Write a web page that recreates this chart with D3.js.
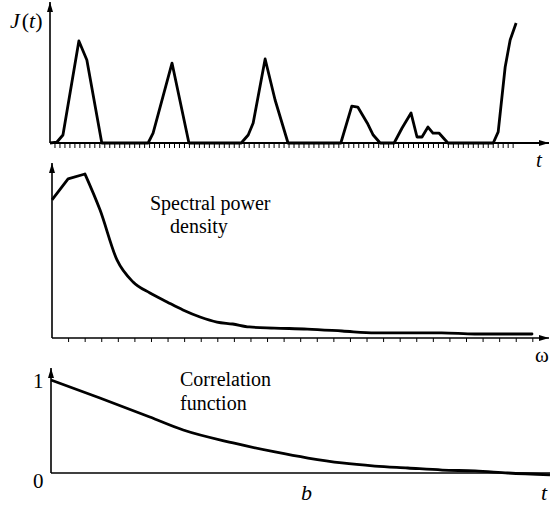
<!DOCTYPE html>
<html>
<head>
<meta charset="utf-8">
<script src="https://cdn.jsdelivr.net/npm/d3@7"></script>
<style>
  body { margin: 0; background: #fff; overflow: hidden; }
  svg { display: block; }
  text { fill: #000; }
</style>
</head>
<body>
<div id="chart"></div>
<script>
// top panel: J(t) pulses  (t in tick units, value in %)
var pulseT = [0, 1.4, 2.6, 5.8, 7.4, 10.4, 19.7, 20.7, 24.5, 27.9, 38.4, 39.8, 40.8, 43.2, 45.2, 47.8,
              58.4, 60.6, 61.8, 63.7, 64.9, 66.3, 69.1, 70.7, 72.5, 73.7, 74.7, 75.9, 76.9, 78.1, 79.9,
              89, 90, 91.4, 92.4, 93.6];
var pulseJ = [0, 0.7, 5.7, 72.9, 59.3, 0, 0, 7.1, 57.1, 0, 0, 5.7, 14.3, 60, 30.7, 0,
              0, 26.4, 25.7, 14.3, 5.7, 0, 0, 10.7, 21.4, 4.3, 4.3, 11.4, 7.1, 7.1, 0,
              0, 7.9, 54.3, 73.6, 85.7];

// middle panel: spectral power density
var specW = [0, 0.97, 1.99, 2.9, 3.92, 4.89, 5.91, 6.94, 7.9, 8.93, 9.95, 10.9, 11.9, 13.4,
             15.4, 17.5, 19.5, 21.5, 23.5, 25.5, 28.95];
var specP = [78.9, 90.9, 93.7, 73.1, 44.6, 32, 25.7, 20.6, 16, 12, 9.1, 8, 6.3, 5.7,
             5.1, 4, 2.9, 2.9, 2.9, 2.3, 2.3];

// bottom panel: correlation function
var corrT = [0, 0.098, 0.198, 0.265, 0.365, 0.449, 0.515, 0.583, 0.649, 0.715, 0.784, 0.85, 0.916, 1];
var corrR = [1, 0.806, 0.602, 0.462, 0.323, 0.226, 0.161, 0.108, 0.075, 0.054, 0.032, 0.022, 0, -0.02];

var width = 550, height = 506;

var svg = d3.select("#chart").append("svg")
    .attr("width", width)
    .attr("height", height)
    .attr("font-family", "'Times New Roman', 'Liberation Serif', 'DejaVu Serif', serif");

var defs = svg.append("defs");
defs.append("marker")
    .attr("id", "arrow")
    .attr("viewBox", "0 0 10 6")
    .attr("refX", 10).attr("refY", 3)
    .attr("markerWidth", 10).attr("markerHeight", 6)
    .attr("markerUnits", "userSpaceOnUse")
    .attr("orient", "auto")
  .append("path")
    .attr("d", "M0,0L10,3L0,6Z")
    .attr("fill", "#000");

function axes(x0, y0, xEnd, yTop, xArrow, lw) {
  svg.append("line")
      .attr("x1", x0).attr("y1", y0).attr("x2", x0).attr("y2", yTop)
      .attr("stroke", "#000").attr("stroke-width", 1.6)
      .attr("marker-end", "url(#arrow)");
  var l = svg.append("line")
      .attr("x1", x0).attr("y1", y0).attr("x2", xEnd).attr("y2", y0)
      .attr("stroke", "#000").attr("stroke-width", lw);
  if (xArrow) l.attr("marker-end", "url(#arrow)");
}

// ---- top panel
var x1 = d3.scaleLinear().domain([0, 100]).range([50, 548]);
var y1 = d3.scaleLinear().domain([0, 100]).range([143, 3]);

axes(50, 143, 549, 2, true, 1.8);

svg.append("g")
  .selectAll("line")
  .data(d3.range(1, 94))
  .enter().append("line")
    .attr("x1", function(d) { return x1(d); })
    .attr("x2", function(d) { return x1(d); })
    .attr("y1", 143).attr("y2", 148)
    .attr("stroke", "#000").attr("stroke-width", 1);

var line1 = d3.line()
    .x(function(d, i) { return x1(pulseT[i]); })
    .y(function(d) { return y1(d); });

svg.append("path")
    .datum(pulseJ)
    .attr("d", line1)
    .attr("fill", "none").attr("stroke", "#000")
    .attr("stroke-width", 2.8).attr("stroke-linejoin", "round");

var jl = svg.append("text").attr("x", 10).attr("y", 28).attr("font-size", 22);
jl.append("tspan").attr("font-style", "italic").text("J");
jl.append("tspan").attr("dx", 2).text("(");
jl.append("tspan").attr("font-style", "italic").text("t");
jl.append("tspan").text(")");

svg.append("text").attr("x", 536).attr("y", 167).attr("font-size", 21)
    .attr("font-style", "italic").text("t");

// ---- middle panel
var x2 = d3.scaleLinear().domain([0, 30]).range([52, 549.4]);
var y2 = d3.scaleLinear().domain([0, 100]).range([338, 163]);

axes(52, 338, 549, 163, true, 1.6);

svg.append("g")
  .selectAll("line")
  .data(d3.range(1, 30))
  .enter().append("line")
    .attr("x1", function(d) { return x2(d); })
    .attr("x2", function(d) { return x2(d); })
    .attr("y1", 338).attr("y2", 342)
    .attr("stroke", "#000").attr("stroke-width", 1);

// sharp corners up to the peak, smooth decay after it
var peak = 2;
var specPts = specP.map(function(p, i) { return [specW[i], p]; });

var line2 = d3.line()
    .x(function(d) { return x2(d[0]); })
    .y(function(d) { return y2(d[1]); });

svg.append("path")
    .datum(specPts.slice(0, peak + 1))
    .attr("d", line2)
    .attr("fill", "none").attr("stroke", "#000")
    .attr("stroke-width", 2.8).attr("stroke-linejoin", "round");

svg.append("path")
    .datum(specPts.slice(peak))
    .attr("d", line2.curve(d3.curveMonotoneX))
    .attr("fill", "none").attr("stroke", "#000")
    .attr("stroke-width", 2.8).attr("stroke-linecap", "round");

svg.append("text").attr("x", 150).attr("y", 210).attr("font-size", 20).text("Spectral power");
svg.append("text").attr("x", 170).attr("y", 233).attr("font-size", 20).text("density");
svg.append("text").attr("x", 535).attr("y", 362).attr("font-size", 21).text("ω");

// ---- bottom panel
var x3 = d3.scaleLinear().domain([0, 1]).range([51, 550]);
var y3 = d3.scaleLinear().domain([0, 1]).range([473, 380]);

axes(51, 473, 550, 368, false, 1.3);

var line3 = d3.line()
    .x(function(d, i) { return x3(corrT[i]); })
    .y(function(d) { return y3(d); })
    .curve(d3.curveMonotoneX);

svg.append("path")
    .datum(corrR)
    .attr("d", line3)
    .attr("fill", "none").attr("stroke", "#000")
    .attr("stroke-width", 2.8);

svg.append("text").attr("x", 180).attr("y", 386).attr("font-size", 20).text("Correlation");
svg.append("text").attr("x", 180).attr("y", 410).attr("font-size", 20).text("function");
svg.append("text").attr("x", 33).attr("y", 388).attr("font-size", 21).text("1");
svg.append("text").attr("x", 33).attr("y", 488).attr("font-size", 21).text("0");
svg.append("text").attr("x", 301).attr("y", 500).attr("font-size", 22)
    .attr("font-style", "italic").text("b");
svg.append("text").attr("x", 541).attr("y", 500).attr("font-size", 22)
    .attr("font-style", "italic").text("t");
</script>
</body>
</html>
